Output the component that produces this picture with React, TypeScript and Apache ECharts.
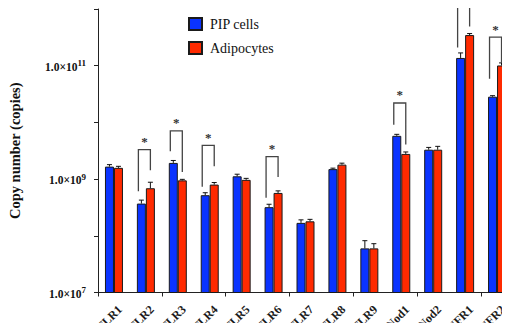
import React, { useEffect, useRef } from 'react';
import * as echarts from 'echarts';

const categories = ['TLR1', 'TLR2', 'TLR3', 'TLR4', 'TLR5', 'TLR6', 'TLR7', 'TLR8', 'TLR9', 'Nod1', 'Nod2', 'TNFR1', 'TNFR2'];
const pipValues = [1.66e9, 3.7e8, 1.93e9, 5.2e8, 1.12e9, 3.2e8, 1.69e8, 1.5e9, 6.0e7, 5.8e9, 3.3e9, 1.37e11, 2.84e10];
const adipoValues = [1.58e9, 6.9e8, 9.5e8, 8.0e8, 9.7e8, 5.7e8, 1.8e8, 1.8e9, 6.0e7, 2.78e9, 3.3e9, 3.47e11, 1.01e11];
const pipErrors = [0.14e9, 0.56e8, 0.2e9, 0.55e8, 0.1e9, 0.4e8, 0.22e8, 0.6e8, 2.2e7, 0.36e9, 0.32e9, 0.31e11, 0.12e10];
const adipoErrors = [0.1e9, 1.9e8, 0.4e8, 0.7e8, 0.6e8, 0.5e8, 0.15e8, 1.1e8, 1.26e7, 0.23e9, 0.48e9, 0.22e11, 0.11e11];

const sigCategories = ['TLR2', 'TLR3', 'TLR4', 'TLR6', 'Nod1', 'TNFR1', 'TNFR2'];
const bracketTops = [3.3e9, 7.06e9, 3.94e9, 2.49e9, 2.2e10, 1.16e12, 3.2e11];
const bracketLeftEnds = [6.1e8, 3.1e9, 7.3e8, 4.67e8, 9.1e9, 2.1e11, 5.9e10];
const bracketRightEnds = [1.43e9, 1.34e9, 1.68e9, 1.09e9, 4.06e9, 4.92e11, 1.12e11];

const labelledExponents = [7, 9, 11];
const seriesNames = ['PIP cells', 'Adipocytes'];
const yAxisTitle = 'Copy number (copies)';
const Y_MIN = 1e7;
const Y_MAX = 1e12;

const SERIF = "'Liberation Serif', 'Times New Roman', serif";
const BLUE = '#0a33ff';
const RED = '#ff2a00';
const BAR_W = 9;

function errorSeries(values: number[], errors: number[], offset: number) {
  return {
    type: 'custom',
    z: 5,
    silent: true,
    data: values.map((v, i) => [i, v, v + errors[i]]),
    encode: { x: 0, y: [1, 2] },
    renderItem: (params: any, api: any) => {
      const base = api.coord([api.value(0), api.value(1)]);
      const top = api.coord([api.value(0), api.value(2)]);
      const x = base[0] + offset;
      return {
        type: 'group',
        children: [
          { type: 'line', shape: { x1: x, y1: base[1], x2: x, y2: top[1] }, style: { stroke: '#111', lineWidth: 1 } },
          { type: 'line', shape: { x1: x - 2.5, y1: top[1], x2: x + 2.5, y2: top[1] }, style: { stroke: '#111', lineWidth: 1 } },
        ],
      };
    },
  };
}

export default function App() {
  const ref = useRef<HTMLDivElement>(null);
  useEffect(() => {
    if (!ref.current) return;
    const chart = echarts.init(ref.current, null, { renderer: 'svg' });
    const bracketData = sigCategories.map((c, i) => [categories.indexOf(c), bracketTops[i], bracketLeftEnds[i], bracketRightEnds[i]]);
    chart.setOption({
      animation: false,
      legend: {
        orient: 'vertical',
        left: 183,
        top: 12,
        itemWidth: 13,
        itemHeight: 12,
        itemGap: 10,
        icon: 'rect',
        data: seriesNames,
        textStyle: { fontFamily: SERIF, fontSize: 14, color: '#111', padding: [0, 0, 0, 3] },
      },
      grid: { left: 98, right: -3, top: 9, bottom: 38.5, containLabel: false, outerBoundsMode: 'none' },
      xAxis: {
        type: 'category',
        data: categories,
        axisLine: { lineStyle: { color: '#222', width: 1 } },
        axisTick: { show: true, length: 4, lineStyle: { color: '#222' } },
        axisLabel: { show: false },
      },
      yAxis: {
        type: 'log',
        logBase: 10,
        min: Y_MIN,
        max: Y_MAX,
        name: yAxisTitle,
        nameLocation: 'middle',
        nameGap: 76,
        nameTextStyle: { fontFamily: SERIF, fontWeight: 'bold', fontSize: 14.5, color: '#111' },
        axisLine: { show: true, lineStyle: { color: '#222', width: 1 } },
        axisTick: { show: true, length: 4, lineStyle: { color: '#222' } },
        splitLine: { show: false },
        axisLabel: {
          margin: 12,
          fontFamily: SERIF,
          fontWeight: 'bold',
          fontSize: 11,
          color: '#111',
          formatter: (v: number) => {
            const e = Math.round(Math.log10(v));
            return labelledExponents.includes(e) ? `{b|1.0×10}{s|${e}}` : '';
          },
          rich: {
            b: { fontFamily: SERIF, fontWeight: 'bold', fontSize: 11.5, color: '#111', lineHeight: 14, verticalAlign: 'bottom' },
            s: { fontFamily: SERIF, fontWeight: 'bold', fontSize: 9, color: '#111', lineHeight: 14, verticalAlign: 'top' },
          },
        },
      },
      series: [
        {
          name: seriesNames[0],
          type: 'bar',
          data: pipValues,
          barWidth: BAR_W,
          barGap: '0%',
          itemStyle: { color: BLUE, borderColor: '#1a1a1a', borderWidth: 1 },
        },
        {
          name: seriesNames[1],
          type: 'bar',
          data: adipoValues,
          barWidth: BAR_W,
          barGap: '0%',
          itemStyle: { color: RED, borderColor: '#1a1a1a', borderWidth: 1 },
        },
        errorSeries(pipValues, pipErrors, -BAR_W / 2),
        errorSeries(adipoValues, adipoErrors, BAR_W / 2),
        {
          type: 'custom',
          z: 6,
          silent: true,
          data: bracketData,
          encode: { x: 0, y: [1, 2, 3] },
          renderItem: (params: any, api: any) => {
            const c = api.coord([api.value(0), api.value(1)]);
            const yl = api.coord([api.value(0), api.value(2)])[1];
            const yr = api.coord([api.value(0), api.value(3)])[1];
            const xl = c[0] - 7.5;
            const xr = c[0] + 4.5;
            return {
              type: 'group',
              children: [
                {
                  type: 'polyline',
                  shape: { points: [[xl, yl], [xl, c[1]], [xr, c[1]], [xr, yr]] },
                  style: { stroke: '#444', lineWidth: 1.3, fill: null },
                },
                {
                  type: 'text',
                  x: (xl + xr) / 2,
                  y: c[1] - 8,
                  style: {
                    text: '*',
                    fontFamily: SERIF,
                    fontWeight: 'bold',
                    fontSize: 13,
                    fill: '#333',
                    align: 'center',
                    verticalAlign: 'middle',
                  },
                },
              ],
            };
          },
        },
        {
          type: 'custom',
          z: 6,
          silent: true,
          data: categories.map((c, i) => [i, Y_MIN]),
          encode: { x: 0, y: 1 },
          renderItem: (params: any, api: any) => {
            const p = api.coord([api.value(0), Y_MIN]);
            return {
              type: 'text',
              x: p[0] + 6,
              y: p[1] + 15,
              rotation: Math.PI / 4,
              style: {
                text: categories[params.dataIndex],
                fontFamily: SERIF,
                fontWeight: 'bold',
                fontSize: 12,
                fill: '#1a1a1a',
                align: 'right',
                verticalAlign: 'middle',
              },
            };
          },
        },
      ],
    });
    return () => chart.dispose();
  }, []);
  return <div ref={ref} style={{ width: 510, height: 331, margin: -8 }} />;
}
